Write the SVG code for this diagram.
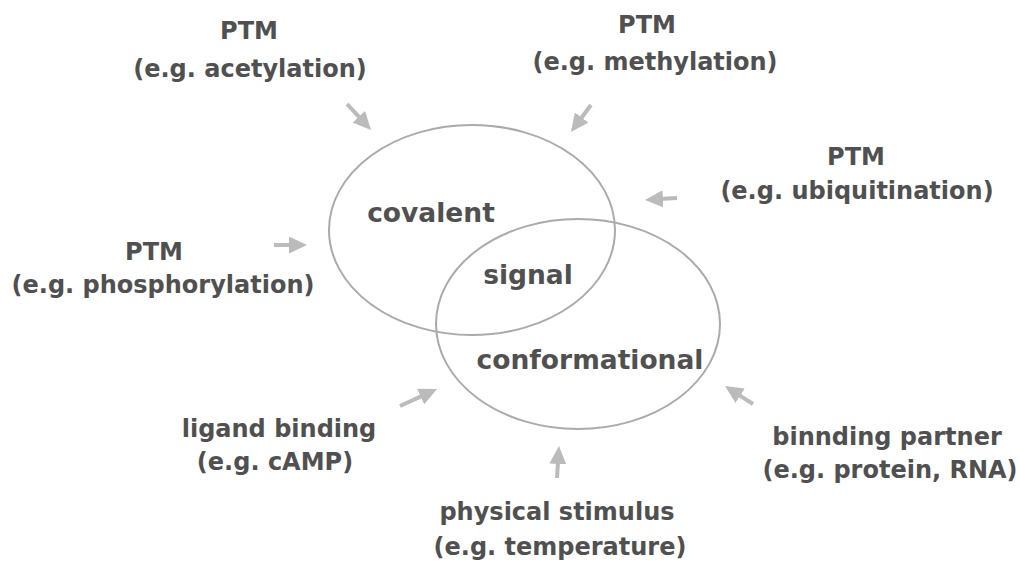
<svg xmlns="http://www.w3.org/2000/svg" width="1020" height="563" viewBox="0 0 1020 563">
<style>
text{font-family:"DejaVu Sans","Liberation Sans",sans-serif;font-weight:bold;font-size:24px;fill:#505050;text-anchor:middle}
.big{font-size:26.5px}
.ring{fill:none;stroke:#aaa;stroke-width:2}
.arr{stroke:#bbb;stroke-width:4;fill:none;marker-end:url(#ah)}
</style>
<defs>
<marker id="ah" markerUnits="userSpaceOnUse" markerWidth="18" markerHeight="17" refX="4" refY="8.5" orient="auto">
<path d="M0,0 L18,8.5 L0,17 z" fill="#bbb"/>
</marker>
</defs>
<rect width="1020" height="563" fill="#fff"/>
<g id="covalent-ring"><ellipse class="ring" cx="472" cy="230" rx="143" ry="105"/></g>
<g id="conformational-ring"><ellipse class="ring" cx="578" cy="324" rx="142" ry="105"/></g>
<g id="covalent"><text class="big" x="431" y="222">covalent</text></g>
<g id="signal"><text class="big" x="528" y="284">signal</text></g>
<g id="conformational"><text class="big" x="590" y="369">conformational</text></g>
<g id="acetylation"><text x="249" y="39">PTM</text><text x="250" y="77">(e.g. acetylation)</text></g>
<g id="methylation"><text x="647" y="33">PTM</text><text x="655" y="70">(e.g. methylation)</text></g>
<g id="ubiquitination"><text x="856" y="165">PTM</text><text x="857" y="199">(e.g. ubiquitination)</text></g>
<g id="phosphorylation"><text x="154" y="260">PTM</text><text x="163" y="293">(e.g. phosphorylation)</text></g>
<g id="ligand"><text x="279" y="437">ligand binding</text><text x="275" y="470">(e.g. cAMP)</text></g>
<g id="partner"><text x="887" y="445">binnding partner</text><text x="890" y="478">(e.g. protein, RNA)</text></g>
<g id="physical"><text x="557" y="520">physical stimulus</text><text x="560" y="555">(e.g. temperature)</text></g>
<g id="connectors">
<line class="arr" x1="347" y1="104" x2="361.5" y2="119.7"/>
<line class="arr" x1="591" y1="105" x2="579.3" y2="120.7"/>
<line class="arr" x1="677" y1="198" x2="659" y2="199.1"/>
<line class="arr" x1="274" y1="245" x2="293" y2="245"/>
<line class="arr" x1="400" y1="406" x2="424.3" y2="394.9"/>
<line class="arr" x1="557" y1="478" x2="558.1" y2="460"/>
<line class="arr" x1="753" y1="404" x2="736.8" y2="393.6"/>
</g>
</svg>
